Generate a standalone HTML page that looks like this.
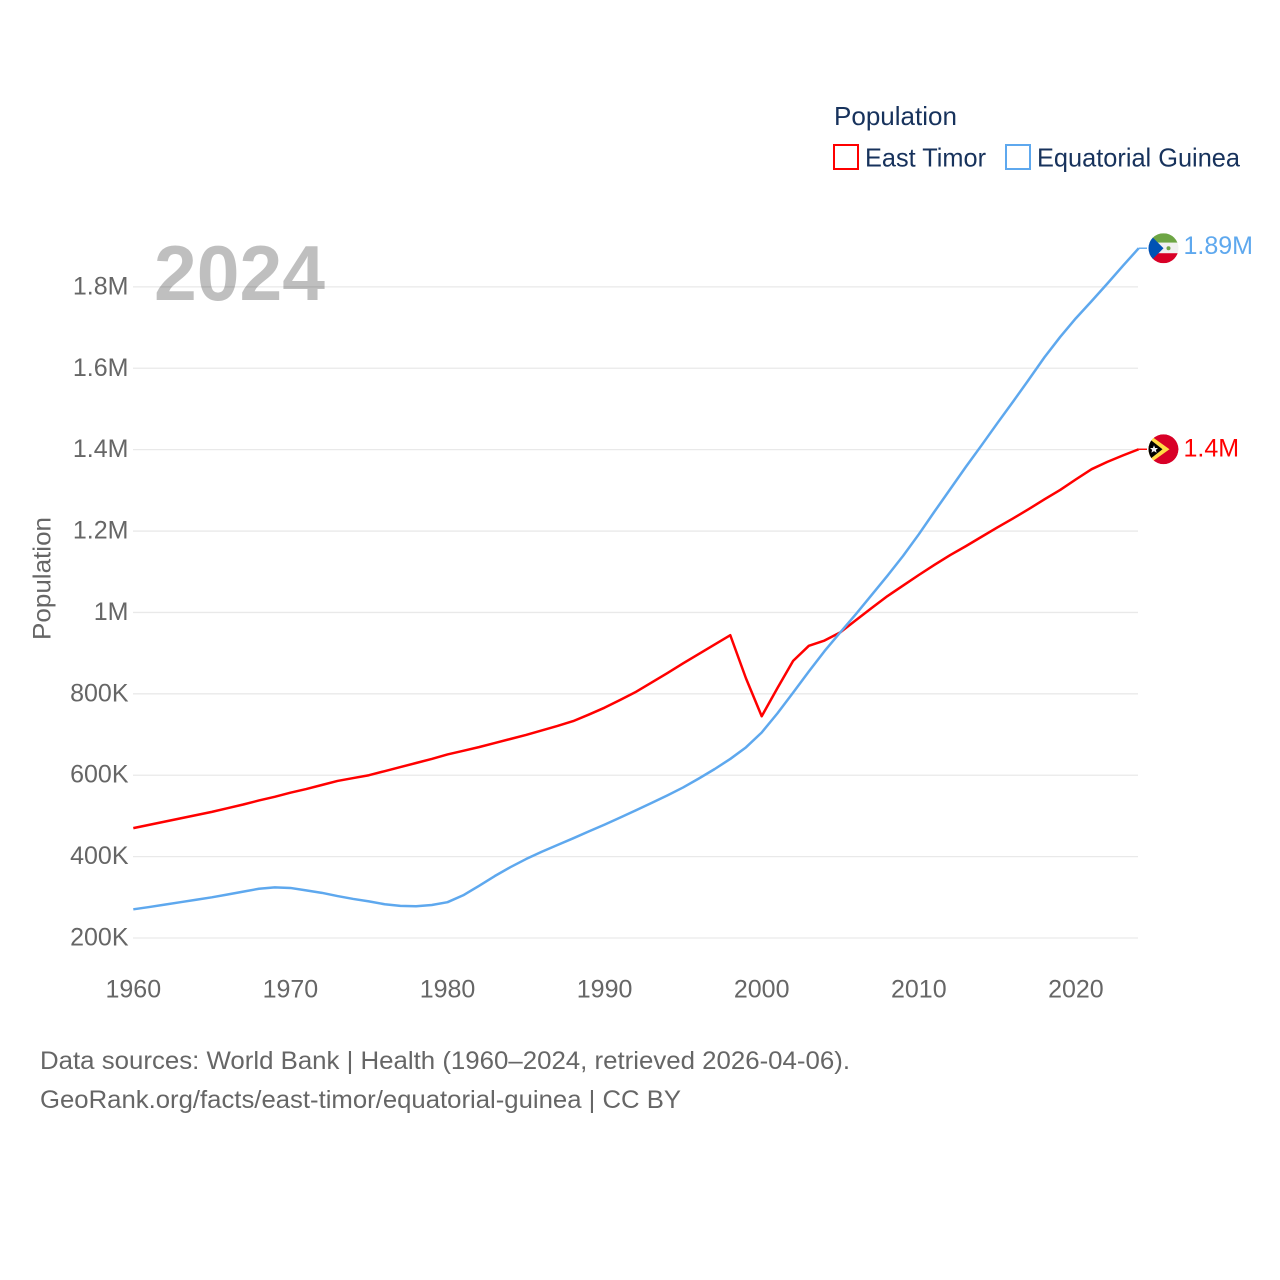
<!DOCTYPE html>
<html lang="en">
<head>
<meta charset="utf-8">
<title>Population: East Timor and Equatorial Guinea</title>
<style>
  html, body { margin: 0; padding: 0; background: #fff; }
  svg { display: block; font-family: "Liberation Sans", sans-serif; }
</style>
</head>
<body>
<svg id="chart" width="1280" height="1280" viewBox="0 0 1280 1280" xmlns="http://www.w3.org/2000/svg">
  <defs>
    <clipPath id="flag-clip"><circle cx="0" cy="0" r="15"></circle></clipPath>
  </defs>
  <rect x="0" y="0" width="1280" height="1280" fill="#ffffff"></rect>

  <g id="grid"></g>
  <g id="y-axis"></g>
  <g id="x-axis"></g>

  <text transform="translate(50.5 578.5) rotate(-90)" text-anchor="middle" font-size="25" fill="#666666" textLength="123" lengthAdjust="spacingAndGlyphs">Population</text>

  <text x="154" y="300" font-size="78" font-weight="700" fill="#000000" fill-opacity="0.25" textLength="171" lengthAdjust="spacingAndGlyphs">2024</text>

  <g id="series"></g>

  <g id="flag-gq">
    <g clip-path="url(#flag-clip)">
      <rect x="-15" y="-15" width="30" height="9.5" fill="#6da544"></rect>
      <rect x="-15" y="-5.5" width="30" height="10.5" fill="#f0f0f0"></rect>
      <rect x="-15" y="5" width="30" height="10" fill="#d80027"></rect>
      <polygon points="-15,-15 -15,15 0,0" fill="#0052b4"></polygon>
      <circle cx="5" cy="0" r="2" fill="#6da544"></circle>
    </g>
  </g>
  <g id="flag-tl">
    <g clip-path="url(#flag-clip)">
      <circle cx="0" cy="0" r="15" fill="#d80027"></circle>
      <polygon points="-15,-15 6,0 -15,15" fill="#ffda44"></polygon>
      <polygon points="-15,-11 -1,0 -15,11" fill="#000000"></polygon>
      <polygon points="-9.5,-4 -8.4,-1.3 -5.5,-1.3 -7.6,0.6 -6.9,3.5 -9.5,1.9 -12.1,3.5 -11.4,0.6 -13.5,-1.3 -10.6,-1.3" fill="#f0f0f0"></polygon>
    </g>
  </g>
  <g id="end-labels"></g>

  <g>
    <text x="834" y="125" font-size="26" fill="#17325c" textLength="123" lengthAdjust="spacingAndGlyphs">Population</text>
    <g>
      <rect x="834" y="145" width="24" height="24" fill="#ffffff" stroke="#ff0000" stroke-width="2"></rect>
      <text x="865" y="166.5" font-size="26" fill="#17325c" textLength="121" lengthAdjust="spacingAndGlyphs">East Timor</text>
    </g>
    <g>
      <rect x="1006" y="145" width="24" height="24" fill="#ffffff" stroke="#5ea8ee" stroke-width="2"></rect>
      <text x="1037" y="166.5" font-size="26" fill="#17325c" textLength="203" lengthAdjust="spacingAndGlyphs">Equatorial Guinea</text>
    </g>
  </g>

  <text x="40" y="1069" font-size="25" fill="#666666" textLength="810" lengthAdjust="spacingAndGlyphs">Data sources: World Bank | Health (1960–2024, retrieved 2026-04-06).</text>
  <text x="40" y="1108" font-size="25" fill="#666666" textLength="641" lengthAdjust="spacingAndGlyphs">GeoRank.org/facts/east-timor/equatorial-guinea | CC BY</text>
</svg>

<script>
// Chart data (population in thousands, one value per year from the first year)
const firstYear = 1960;
const eastTimor = [
  470, 478, 486, 494, 502, 510, 519, 528, 538, 547,
  557, 566, 576, 586, 593, 600, 610, 620, 630, 640,
  651, 660, 669, 679, 689, 699, 710, 721, 733, 749,
  766, 785, 805, 828, 851, 875, 898, 921, 944, 838,
  745, 814, 881, 918, 931, 951, 981, 1011, 1040, 1066,
  1092, 1117, 1141, 1163, 1186, 1209, 1231, 1254, 1278, 1301,
  1327, 1352, 1370, 1386, 1401
];
const equatorialGuinea = [
  270.5, 276, 282, 288, 294, 300, 307, 314, 321, 324.5,
  323, 317, 311, 303, 296, 290, 283, 279, 278, 281,
  288, 305, 328, 352, 374, 394, 412, 428.5, 445, 462,
  478.5, 496, 514, 532, 550.6, 570, 592, 615, 640, 668.5,
  705, 752, 803, 855, 905, 951, 996, 1043, 1090, 1139,
  1192, 1248, 1303, 1358, 1411, 1465, 1518, 1572, 1627, 1677,
  1723, 1765, 1808, 1852, 1895
];
const yTickValues = [200, 400, 600, 800, 1000, 1200, 1400, 1600, 1800];
const yTickLabels = ["200K", "400K", "600K", "800K", "1M", "1.2M", "1.4M", "1.6M", "1.8M"];
const xTickValues = [1960, 1970, 1980, 1990, 2000, 2010, 2020];
const xTickLabels = ["1960", "1970", "1980", "1990", "2000", "2010", "2020"];
const endLabelEastTimor = "1.4M";
const endLabelEquatorialGuinea = "1.89M";

// Axis functions
function xScale(year) { return 133.3 + (year - 1960) * 15.71; }
function yScale(value) { return 938 - (value - 200) * 0.40695; }

const NS = "http://www.w3.org/2000/svg";
function make(tag, parent, attrs, text) {
  const el = document.createElementNS(NS, tag);
  for (const k in attrs) el.setAttribute(k, attrs[k]);
  if (text !== undefined) el.textContent = text;
  parent.appendChild(el);
  return el;
}

const gridGroup = document.getElementById("grid");
const yAxisGroup = document.getElementById("y-axis");
const xAxisGroup = document.getElementById("x-axis");
const seriesGroup = document.getElementById("series");
const endLabelGroup = document.getElementById("end-labels");

yTickValues.forEach(function (value, i) {
  const y = yScale(value);
  const line = make("line", gridGroup, { x1: 133, x2: 1138, y1: y, y2: y, stroke: "#e9e9e9", "stroke-width": 1.3 });
  
  
  const label = make("text", yAxisGroup, { x: 128.5, y: y + 7.5, "text-anchor": "end", "font-size": 25, fill: "#666666" }, yTickLabels[i]);
  
  
});

xTickValues.forEach(function (year, i) {
  const label = make("text", xAxisGroup, { x: xScale(year), y: 997.5, "text-anchor": "middle", "font-size": 25, fill: "#666666" }, xTickLabels[i]);
  
  
});

function linePath(values) {
  return values.map(function (v, i) {
    return (i === 0 ? "M" : "L") + xScale(firstYear + i).toFixed(2) + " " + yScale(v).toFixed(2);
  }).join(" ");
}

const lastYear = firstYear + eastTimor.length - 1;

// Red series
const redLine = make("path", seriesGroup, { d: linePath(eastTimor), fill: "none", stroke: "#ff0000", "stroke-width": 2.5, "stroke-linejoin": "round" });



// Blue series
const blueLine = make("path", seriesGroup, { d: linePath(equatorialGuinea), fill: "none", stroke: "#5ea8ee", "stroke-width": 2.5, "stroke-linejoin": "round" });



// End markers follow the last data value
const redEndY = yScale(eastTimor[eastTimor.length - 1]);
const blueEndY = yScale(equatorialGuinea[equatorialGuinea.length - 1]);

const redStub = make("line", seriesGroup, { x1: xScale(lastYear), x2: 1147, y1: redEndY, y2: redEndY, stroke: "#ff0000", "stroke-width": 1.4 });


const blueStub = make("line", seriesGroup, { x1: xScale(lastYear), x2: 1147, y1: blueEndY, y2: blueEndY, stroke: "#5ea8ee", "stroke-width": 1.4 });



document.getElementById("flag-tl").setAttribute("transform", "translate(1163.5 " + redEndY + ")");
document.getElementById("flag-gq").setAttribute("transform", "translate(1163.5 " + blueEndY + ")");

const redLabel = make("text", endLabelGroup, { x: 1183.5, y: redEndY + 7, "font-size": 25, fill: "#ff0000" }, endLabelEastTimor);


const blueLabel = make("text", endLabelGroup, { x: 1183.5, y: blueEndY + 6, "font-size": 25, fill: "#5ea8ee" }, endLabelEquatorialGuinea);


</script>
</body>
</html>
